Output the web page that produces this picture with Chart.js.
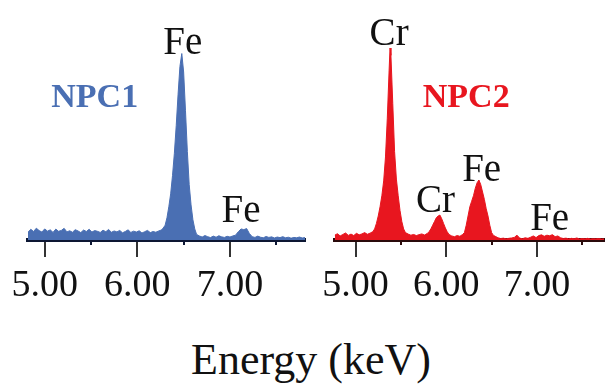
<!DOCTYPE html>
<html>
<head>
<meta charset="utf-8">
<script src="https://cdn.jsdelivr.net/npm/chart.js@4"></script>
<style>
	html, body { margin: 0; padding: 0; background: #fff; overflow: hidden; }
	#wrap { position: relative; width: 605px; height: 386px; }
	canvas { position: absolute; top: 0; }
	#npc1 { left: 0; }
	#npc2 { left: 315px; }
	#xtitle {
		position: absolute; left: 111px; width: 400px; top: 334px;
		text-align: center; line-height: 1; color: #111;
		font: 44px 'Liberation Serif', 'Times New Roman', serif;
	}
</style>
</head>
<body>
<div id="wrap">
	<canvas id="npc1" width="315" height="330"></canvas>
	<canvas id="npc2" width="290" height="330"></canvas>
	<div id="xtitle">Energy (keV)</div>
</div>
<script>
( function () {
	'use strict';

	// Axis ticks (keV).
	var tickValues      = [ 5, 6, 7 ];
	var minorTickValues = [ 5.5, 6.5, 7.5 ];

	// NPC1 spectrum (keV / counts, a.u.).
	var npc1Energy = [
		4.82, 4.85, 4.88, 4.91, 4.94, 4.97, 5.00, 5.03, 5.06, 5.09, 5.12, 5.15, 5.18, 5.21, 5.24, 5.27,
		5.30, 5.33, 5.36, 5.39, 5.42, 5.45, 5.48, 5.51, 5.54, 5.57, 5.60, 5.63, 5.66, 5.69, 5.72, 5.75,
		5.78, 5.81, 5.84, 5.87, 5.90, 5.93, 5.96, 5.99, 6.02, 6.05, 6.08, 6.11, 6.14, 6.17, 6.20, 6.23, 6.26,
		6.28, 6.30, 6.32, 6.34, 6.36, 6.38, 6.40, 6.42, 6.44, 6.46, 6.48, 6.50, 6.52, 6.54, 6.56, 6.58,
		6.60, 6.62, 6.64,
		6.67, 6.70, 6.73, 6.76, 6.79, 6.82, 6.85, 6.88, 6.91, 6.94, 6.97, 7.00, 7.03, 7.06,
		7.09, 7.12, 7.15, 7.18, 7.21,
		7.24, 7.27, 7.30, 7.33, 7.36, 7.39, 7.42, 7.45, 7.48, 7.51, 7.54, 7.57, 7.60, 7.63, 7.66, 7.69,
		7.72, 7.75, 7.78, 7.81
	];
	var npc1Counts = [
		4.2, 5.8, 4.6, 6.4, 5.1, 4.3, 6.0, 4.8, 5.5, 4.1, 5.9, 4.7, 5.2, 6.3, 4.4, 5.0,
		4.2, 5.6, 4.9, 4.0, 5.4, 4.6, 5.8, 4.3, 5.1, 4.7, 4.1, 5.3, 4.5, 5.7, 4.2, 4.9,
		4.4, 5.2, 3.9, 4.6, 5.5, 4.1, 4.8, 4.3, 5.0, 3.8, 4.5, 5.2, 4.0, 4.6, 4.2, 4.9, 5.4,
		6.5, 8, 12, 18, 25, 35, 47, 62, 79, 94, 101, 91, 70, 48, 30, 19,
		11, 6, 3,
		2.2, 1.6, 2.4, 1.8, 1.3, 2.1, 1.5, 2.3, 1.7, 1.4, 2.0, 1.6, 2.2, 2.6,
		4.5, 6.0, 5.6, 6.2, 3.5,
		1.8, 1.4, 2.1, 1.5, 1.2, 1.9, 1.4, 1.7, 1.1, 1.6, 1.3, 1.8, 1.2, 1.5, 1.0, 1.4,
		1.2, 1.6, 1.1, 1.3
	];

	// NPC2 spectrum (keV / counts, a.u.).
	var npc2Energy = [
		4.77, 4.80, 4.83, 4.86, 4.89, 4.92, 4.95, 4.98, 5.01, 5.04, 5.07, 5.10, 5.13, 5.16,
		5.19, 5.21, 5.23, 5.25, 5.27, 5.29, 5.31, 5.33, 5.35, 5.37, 5.38, 5.39, 5.41, 5.43, 5.45, 5.47,
		5.49, 5.51, 5.53, 5.55,
		5.58, 5.61, 5.64, 5.67, 5.70, 5.73, 5.76, 5.79,
		5.81, 5.83, 5.85, 5.87, 5.89, 5.91, 5.93, 5.95, 5.97, 5.99, 6.01, 6.03,
		6.06, 6.09, 6.12, 6.15,
		6.18, 6.20, 6.22, 6.24, 6.26, 6.28, 6.30, 6.32, 6.34, 6.36, 6.38, 6.40, 6.42, 6.44, 6.46, 6.48,
		6.50, 6.52, 6.54,
		6.57, 6.60, 6.63, 6.66, 6.69, 6.72, 6.75, 6.78, 6.81, 6.84, 6.87, 6.90, 6.93, 6.96, 6.99, 7.02,
		7.05, 7.08, 7.11, 7.14, 7.17, 7.20, 7.23, 7.26, 7.29, 7.32, 7.35, 7.38, 7.41, 7.44, 7.47, 7.50,
		7.53, 7.56, 7.59, 7.62, 7.65, 7.68, 7.71, 7.74
	];
	var npc2Counts = [
		2.6, 3.4, 2.2, 3.0, 3.8, 2.5, 3.2, 2.4, 3.6, 2.8, 3.3, 4.0, 3.1, 3.7,
		4.5, 6, 9, 13, 18, 24, 32, 45, 66, 92, 104, 100, 74, 48, 33, 24,
		16, 10, 6, 4,
		3.2, 2.6, 3.0, 2.4, 2.9, 3.3, 2.7, 3.5,
		4.5, 6, 8, 10, 12, 13, 13.5, 11.5, 9, 6.5, 4.5, 3,
		2.2, 1.8, 2.4, 2.0,
		3, 4, 8, 13, 18, 21, 24, 28, 31, 32.5, 30, 26, 22, 17, 13, 8,
		4, 2.5, 2,
		1.2, 0.8, 1.0, 0.6, 0.9, 1.1, 1.4, 2.6, 1.0, 0.7, 1.2, 0.9, 1.5, 2.2, 1.3, 2.4,
		2.8, 2.0, 2.6, 2.3, 2.9, 1.8, 2.2, 1.2, 0.8, 1.0, 0.6, 0.9, 0.7, 1.1, 0.5, 0.8,
		0.6, 0.9, 0.5, 0.7, 0.6, 0.8, 0.5, 0.6
	];

	// Peak labels: [text, keV, counts at text baseline].
	var npc1Peaks = [ [ 'Fe', 6.49, 101 ], [ 'Fe', 7.12, 9.5 ] ];
	var npc2Peaks = [ [ 'Cr', 5.37, 105.5 ], [ 'Cr', 5.88, 15 ], [ 'Fe', 6.39, 32 ], [ 'Fe', 7.14, 5.4 ] ];

	// Sample names: [text, keV, counts at text baseline].
	var npc1Name = [ 'NPC1', 5.54, 72 ];
	var npc2Name = [ 'NPC2', 6.22, 72 ];

	var SERIF = "'Liberation Serif', 'Times New Roman', serif";

	// Peak labels, sample name and the small minor ticks under the axis.
	var spectrumDecor = {
		id: 'spectrumDecor',
		afterDraw: function ( chart, args, opts ) {
			var ctx = chart.ctx;
			var xs  = chart.scales.x;
			var ys  = chart.scales.y;
			ctx.save();
			ctx.textAlign    = 'center';
			ctx.textBaseline = 'alphabetic';

			ctx.fillStyle = '#111';
			ctx.font = '39px ' + SERIF;
			opts.peaks.forEach( function ( p ) {
				ctx.fillText( p[ 0 ], xs.getPixelForValue( p[ 1 ] ), ys.getPixelForValue( p[ 2 ] ) );
			} );

			ctx.fillStyle = opts.colour;
			ctx.font = 'bold 34px ' + SERIF;
			ctx.fillText( opts.name[ 0 ], xs.getPixelForValue( opts.name[ 1 ] ), ys.getPixelForValue( opts.name[ 2 ] ) );

			ctx.strokeStyle = opts.axisColour;
			ctx.lineWidth = 2;
			minorTickValues.forEach( function ( v ) {
				var px = Math.round( xs.getPixelForValue( v ) );
				if ( px < xs.left || px > xs.right ) return;
				ctx.beginPath();
				ctx.moveTo( px, xs.top );
				ctx.lineTo( px, xs.top + 5 );
				ctx.stroke();
			} );
			ctx.restore();
		},
	};

	function makeChart( id, energy, counts, colour, axisColour, xMin, xMax, padLeft, padRight, peaks, name ) {
		var points = energy.map( function ( e, i ) {
			return { x: e, y: counts[ i ] };
		} );

		return new Chart( document.getElementById( id ), {
			type: 'line',
			data: {
				datasets: [ {
					data:            points,
					borderColor:     colour,
					backgroundColor: colour,
					borderWidth:     1,
					pointRadius:     0,
					tension:         0,
					fill:            'origin',
				} ],
			},
			options: {
				responsive: false,
				animation:  false,
				layout: { padding: { left: padLeft, right: padRight, top: 0, bottom: 0 } },
				plugins: {
					legend:  { display: false },
					tooltip: { enabled: false },
					spectrumDecor: { peaks: peaks, name: name, colour: colour, axisColour: axisColour },
				},
				scales: {
					x: {
						type: 'linear',
						min:  xMin,
						max:  xMax,
						afterBuildTicks: function ( s ) {
							s.ticks = tickValues.map( function ( v ) { return { value: v }; } );
						},
						afterFit: function ( s ) { s.height = 90; },
						border: { display: true, color: axisColour, width: 4 },
						grid: {
							drawOnChartArea: false,
							drawTicks:       true,
							tickLength:      17,
							color:           '#333',
							lineWidth:       2,
						},
						ticks: {
							color:       '#111',
							padding:     6,
							maxRotation: 0,
							font:        { family: SERIF, size: 38 },
							callback: function ( v ) { return Number( v ).toFixed( 2 ); },
						},
					},
					y: {
						display: false,
						min:     0,
						max:     130,
					},
				},
			},
			plugins: [ spectrumDecor ],
		} );
	}

	makeChart( 'npc1', npc1Energy, npc1Counts, '#4a6fb3', '#0d1733', 4.82, 7.81, 28, 10, npc1Peaks, npc1Name );
	makeChart( 'npc2', npc2Energy, npc2Counts, '#e8161f', '#2a0a0b', 4.77, 7.75, 17, 0, npc2Peaks, npc2Name );
} )();
</script>
</body>
</html>
